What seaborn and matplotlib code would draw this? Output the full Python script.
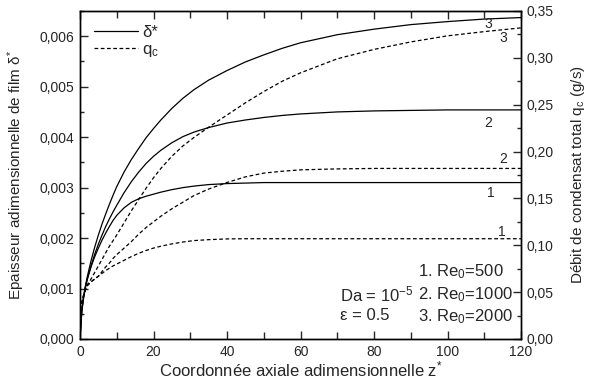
import matplotlib
matplotlib.use("Agg")
import matplotlib.pyplot as plt
from matplotlib.ticker import MultipleLocator, FuncFormatter
from matplotlib.lines import Line2D
import seaborn as sns

# ---- data ----
z = [0, 0.5, 1, 1.5, 2, 3, 4, 5, 6, 7, 8, 9, 10, 12, 14, 16, 18, 20, 22, 25, 28, 31, 35,
     40, 45, 50, 55, 60, 70, 80, 90, 100, 110, 120]

delta_re500 = [0, 0.00058, 0.00085, 0.00105, 0.00120, 0.00143, 0.00163, 0.00180, 0.00196, 0.00210,
               0.00223, 0.00235, 0.00245, 0.00260, 0.00271, 0.00278, 0.00283, 0.00287, 0.00291,
               0.00296, 0.00300, 0.00303, 0.00306, 0.00308, 0.00309, 0.00310, 0.00310, 0.00310,
               0.00310, 0.00310, 0.00310, 0.00310, 0.00310, 0.00310]
delta_re1000 = [0, 0.00055, 0.00082, 0.00102, 0.00118, 0.00145, 0.00168, 0.00188, 0.00206, 0.00223,
                0.00238, 0.00252, 0.00265, 0.00290, 0.00312, 0.00331, 0.00348, 0.00362, 0.00374,
                0.00389, 0.00401, 0.00410, 0.00419, 0.00428, 0.00434, 0.00439, 0.00443, 0.00446,
                0.00450, 0.00452, 0.00453, 0.00454, 0.00454, 0.00454]
delta_re2000 = [0, 0.00058, 0.00085, 0.00106, 0.00124, 0.00155, 0.00182, 0.00206, 0.00228, 0.00248,
                0.00267, 0.00285, 0.00302, 0.00331, 0.00356, 0.00378, 0.00399, 0.00417, 0.00434,
                0.00457, 0.00477, 0.00494, 0.00513, 0.00532, 0.00549, 0.00563, 0.00576, 0.00587,
                0.00603, 0.00614, 0.00623, 0.00629, 0.00634, 0.00637]

qc_re500 = [0.031, 0.039, 0.047, 0.053, 0.057, 0.061, 0.064, 0.067, 0.070, 0.073, 0.0755, 0.078,
            0.080, 0.084, 0.088, 0.0915, 0.0945, 0.097, 0.099, 0.1015, 0.1035, 0.105, 0.106,
            0.1068, 0.107, 0.107, 0.107, 0.107, 0.107, 0.107, 0.107, 0.107, 0.107, 0.107]
qc_re1000 = [0.031, 0.039, 0.047, 0.053, 0.057, 0.061, 0.064, 0.067, 0.072, 0.077, 0.081, 0.086,
             0.090, 0.097, 0.104, 0.112, 0.119, 0.125, 0.131, 0.139, 0.146, 0.153, 0.160,
             0.167, 0.173, 0.177, 0.179, 0.1805, 0.1815, 0.182, 0.182, 0.182, 0.182, 0.182]
qc_re2000 = [0.031, 0.039, 0.047, 0.053, 0.058, 0.064, 0.071, 0.078, 0.085, 0.092, 0.099, 0.105,
             0.111, 0.124, 0.137, 0.149, 0.161, 0.172, 0.182, 0.195, 0.206, 0.215, 0.226,
             0.239, 0.252, 0.264, 0.275, 0.284, 0.299, 0.309, 0.317, 0.3235, 0.328, 0.332]

curve_labels = ["1", "2", "3"]
re_labels = ["1. Re$\\mathregular{_0}$=500", "2. Re$\\mathregular{_0}$=1000",
             "3. Re$\\mathregular{_0}$=2000"]

# ---- style ----
sns.set_style("ticks")
plt.rcParams["font.family"] = ["Liberation Sans", "DejaVu Sans"]
plt.rcParams["mathtext.fontset"] = "custom"
plt.rcParams["mathtext.rm"] = "Liberation Sans"
plt.rcParams["mathtext.it"] = "Liberation Sans:italic"
plt.rcParams["mathtext.sf"] = "Liberation Sans"
plt.rcParams["axes.linewidth"] = 1.0

fig = plt.figure(figsize=(5.92, 3.85), dpi=100)
ax = fig.add_axes([80/592, 1-339/385, (521-80)/592, (339-11)/385])
ax2 = ax.twinx()

dash = (0, (3, 2))
for d in [delta_re500, delta_re1000, delta_re2000]:
    sns.lineplot(x=z, y=d, ax=ax, color="black", lw=0.9, estimator=None)
for q in [qc_re500, qc_re1000, qc_re2000]:
    sns.lineplot(x=z, y=q, ax=ax2, color="black", lw=0.9, estimator=None, linestyle=dash)

ax.set_xlim(0, 120)
ax.set_ylim(0, 0.0065)
ax2.set_ylim(0, 0.35)

ax.xaxis.set_major_locator(MultipleLocator(20))
ax.xaxis.set_minor_locator(MultipleLocator(10))
ax.yaxis.set_major_locator(MultipleLocator(0.001))
ax.yaxis.set_minor_locator(MultipleLocator(0.0005))
ax2.yaxis.set_major_locator(MultipleLocator(0.05))
ax2.yaxis.set_minor_locator(MultipleLocator(0.025))

ax.yaxis.set_major_formatter(FuncFormatter(lambda v, p: f"{v:.3f}".replace(".", ",")))
ax2.yaxis.set_major_formatter(FuncFormatter(lambda v, p: f"{v:.2f}".replace(".", ",")))
ax.xaxis.set_major_formatter(FuncFormatter(lambda v, p: f"{v:.0f}"))

for a in (ax, ax2):
    a.tick_params(which="major", direction="in", length=6, width=1, labelsize=10)
    a.tick_params(which="minor", direction="in", length=3, width=1)
ax.tick_params(axis="x", which="both", top=True)
ax.tick_params(axis="x", which="minor", length=5)
ax.tick_params(axis="x", which="major", pad=4)
ax.tick_params(axis="y", which="major", pad=4)
ax2.tick_params(axis="y", which="major", pad=4)

for a in (ax, ax2):
    for s in a.spines.values():
        s.set_visible(True)
        s.set_color("black")

ax.set_xlabel("Coordonnée axiale adimensionnelle z$\\mathregular{^{*}}$", fontsize=12, labelpad=1)
ax.set_ylabel("Epaisseur adimensionnelle de film δ$\\mathregular{^{*}}$", fontsize=11, labelpad=9)
ax2.set_ylabel("Débit de condensat total q$\\mathregular{_c}$ (g/s)", fontsize=11, labelpad=11)

# legend
handles = [Line2D([], [], color="black", lw=0.9),
           Line2D([], [], color="black", lw=0.9, linestyle=dash)]
ax.legend(handles, ["δ*", "q$\\mathregular{_c}$"], loc="upper left", frameon=False, fontsize=12,
          handlelength=2.6, handletextpad=0.3, borderaxespad=0.45, labelspacing=0.1)

# curve labels
for txt, (xx, yy) in zip(curve_labels, [(111.8, 0.0029), (111.1, 0.00429), (111.1, 0.00625)]):
    ax.text(xx, yy, txt, fontsize=10, ha="center", va="center")
for txt, (xx, yy) in zip(curve_labels, [(114.7, 0.00213), (115.2, 0.00357), (115.2, 0.00597)]):
    ax.text(xx, yy, txt, fontsize=10, ha="center", va="center")

# annotations
ax.text(70.7, 0.000873, "Da = 10$\\mathregular{^{-5}}$", fontsize=12, ha="left", va="center")
ax.text(70.7, 0.000456, "ε = 0.5", fontsize=12, ha="left", va="center")
for txt, yy in zip(re_labels, [0.00133, 0.000873, 0.000437]):
    ax.text(92.0, yy, txt, fontsize=12, ha="left", va="center")

fig.savefig("out.png", dpi=100)
